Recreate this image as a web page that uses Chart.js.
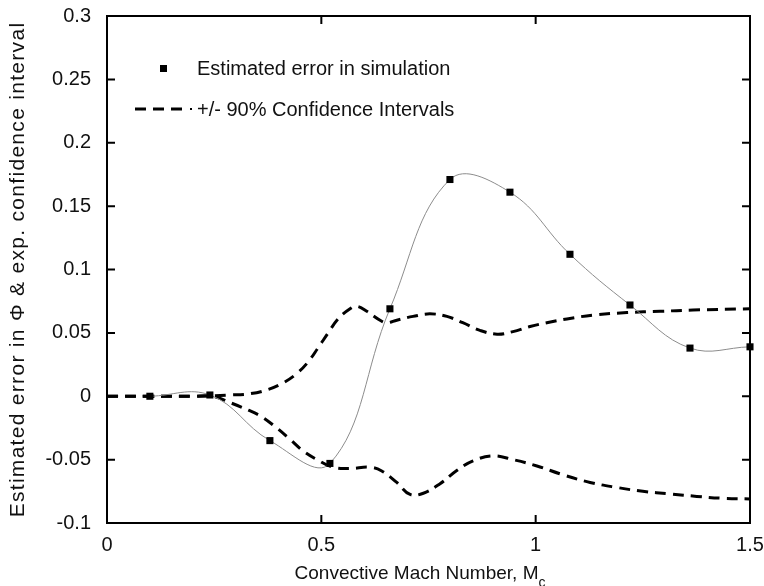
<!DOCTYPE html>
<html>
<head>
<meta charset="utf-8">
<script src="https://cdn.jsdelivr.net/npm/chart.js@4.4.1/dist/chart.umd.min.js"></script>
<style>
  html, body { margin: 0; padding: 0; background: #fff; }
  #wrap { width: 764px; height: 586px; }
</style>
</head>
<body>
<div id="wrap"><canvas id="errorChart" width="764" height="586"></canvas></div>
<script>
  // estimated error in simulation (square markers)
  const machNumbers = [0.1, 0.24, 0.38, 0.52, 0.66, 0.8, 0.94, 1.08, 1.22, 1.36, 1.5];
  const estimatedError = [0, 0.001, -0.035, -0.053, 0.069, 0.171, 0.161, 0.112, 0.072, 0.038, 0.039];

  // +/- 90% confidence interval curves
  const upperMach = [0, 0.1, 0.2, 0.287, 0.334, 0.373, 0.408, 0.443, 0.469, 0.492, 0.516, 0.539, 0.567, 0.583,
    0.606, 0.637, 0.653, 0.676, 0.714, 0.753, 0.793, 0.83, 0.87, 0.91, 0.947, 0.987, 1.026, 1.073, 1.134,
    1.213, 1.29, 1.367, 1.5];
  const upperCI = [0, 0, 0, 0.001, 0.002, 0.005, 0.010, 0.018, 0.027, 0.038, 0.050, 0.061, 0.069, 0.071,
    0.067, 0.060, 0.058, 0.060, 0.063, 0.065, 0.063, 0.058, 0.052, 0.049, 0.051, 0.055, 0.058, 0.061, 0.064,
    0.066, 0.067, 0.068, 0.069];
  const lowerMach = [0, 0.1, 0.2, 0.247, 0.287, 0.33, 0.36, 0.396, 0.427, 0.457, 0.49, 0.527, 0.567, 0.613,
    0.641, 0.676, 0.707, 0.738, 0.777, 0.816, 0.854, 0.9, 0.947, 1.003, 1.064, 1.127, 1.19, 1.25, 1.313,
    1.376, 1.437, 1.5];
  const lowerCI = [0, 0, 0, 0, -0.005, -0.011, -0.016, -0.025, -0.034, -0.043, -0.050, -0.056, -0.057, -0.056,
    -0.059, -0.068, -0.0775, -0.0765, -0.069, -0.0585, -0.051, -0.047, -0.050, -0.055, -0.062, -0.068, -0.072,
    -0.075, -0.077, -0.079, -0.0805, -0.081];

  const xTicks = [0, 0.5, 1, 1.5];
  const yTicks = [-0.1, -0.05, 0, 0.05, 0.1, 0.15, 0.2, 0.25, 0.3];

  const legendLabels = ['Estimated error in simulation', '+/- 90% Confidence Intervals'];
  const xTitle = 'Convective Mach Number, M';
  const yTitle = 'Estimated error in \u03A6 & exp. confidence interval';

  const FONT = '"Liberation Sans", Arial, Helvetica, sans-serif';

  function toPoints(xs, ys) {
    return xs.map((x, i) => ({ x: x, y: ys[i] }));
  }

  function fmt(v) {
    return String(+Number(v).toFixed(2));
  }

  // box around plot + inward tick marks on all four sides, plus axis titles
  const frame = {
    id: 'frame',
    afterDraw(chart) {
      const ctx = chart.ctx;
      const a = chart.chartArea;
      const xs = chart.scales.x, ys = chart.scales.y;
      const tl = 8;
      ctx.save();
      ctx.strokeStyle = '#000';
      ctx.lineWidth = 2;
      ctx.strokeRect(a.left, a.top, a.right - a.left, a.bottom - a.top);
      ctx.beginPath();
      xTicks.forEach(v => {
        const px = xs.getPixelForValue(v);
        ctx.moveTo(px, a.bottom); ctx.lineTo(px, a.bottom - tl);
        ctx.moveTo(px, a.top); ctx.lineTo(px, a.top + tl);
      });
      yTicks.forEach(v => {
        const py = ys.getPixelForValue(v);
        ctx.moveTo(a.left, py); ctx.lineTo(a.left + tl, py);
        ctx.moveTo(a.right, py); ctx.lineTo(a.right - tl, py);
      });
      ctx.stroke();

      // x axis title with subscript
      ctx.fillStyle = '#111';
      ctx.textBaseline = 'alphabetic';
      ctx.textAlign = 'left';
      ctx.font = '19px ' + FONT;
      const w = ctx.measureText(xTitle).width;
      const sx = (a.left + a.right) / 2 - w / 2 - 12;
      ctx.fillText(xTitle, sx, 579);
      ctx.font = '14px ' + FONT;
      ctx.fillText('c', sx + w, 587);

      // y axis title, rotated
      ctx.translate(18, (a.top + a.bottom) / 2);
      ctx.rotate(-Math.PI / 2);
      ctx.font = '21px ' + FONT;
      ctx.letterSpacing = '1.3px';
      ctx.textAlign = 'center';
      ctx.textBaseline = 'middle';
      ctx.fillText(yTitle, 0, 0);
      ctx.restore();
    }
  };

  // legend in the top-left of the plot
  const innerLegend = {
    id: 'innerLegend',
    afterDraw(chart) {
      const ctx = chart.ctx;
      const a = chart.chartArea;
      ctx.save();
      ctx.fillStyle = '#000';
      ctx.fillRect(a.left + 53, a.top + 49, 7, 7);
      ctx.strokeStyle = '#000';
      ctx.lineWidth = 3;
      ctx.setLineDash([11, 7]);
      ctx.beginPath();
      ctx.moveTo(a.left + 28, a.top + 93);
      ctx.lineTo(a.left + 82, a.top + 93);
      ctx.stroke();
      ctx.setLineDash([]);
      ctx.fillRect(a.left + 83, a.top + 92, 2, 2);
      ctx.fillStyle = '#111';
      ctx.font = '20px ' + FONT;
      ctx.textBaseline = 'middle';
      ctx.fillText(legendLabels[0], a.left + 90, a.top + 53);
      ctx.fillText(legendLabels[1], a.left + 90, a.top + 94);
      ctx.restore();
    }
  };

  const ctx = document.getElementById('errorChart').getContext('2d');
  const errorChart = new Chart(ctx, {
    type: 'line',
    data: {
      datasets: [
        {
          label: legendLabels[0],
          data: toPoints(machNumbers, estimatedError),
          borderColor: '#8c8c8c',
          borderWidth: 1,
          backgroundColor: '#000',
          pointStyle: 'rect',
          pointRadius: 5,
          pointBorderWidth: 0,
          pointBackgroundColor: '#000',
          tension: 0.4,
          clip: false,
          order: 0
        },
        {
          label: legendLabels[1],
          data: toPoints(upperMach, upperCI),
          borderColor: '#000',
          borderWidth: 3,
          borderDash: [11, 7],
          pointRadius: 0,
          tension: 0.4,
          order: 1
        },
        {
          label: '',
          data: toPoints(lowerMach, lowerCI),
          borderColor: '#000',
          borderWidth: 3,
          borderDash: [11, 7],
          pointRadius: 0,
          tension: 0.4,
          order: 2
        }
      ]
    },
    options: {
      responsive: false,
      devicePixelRatio: 1,
      animation: false,
      layout: { padding: { left: 0, top: 16, right: 14, bottom: 0 } },
      scales: {
        x: {
          type: 'linear',
          min: 0,
          max: 1.5,
          afterFit: s => {
            s.height = 63;
            s.paddingLeft = 0;
            s.paddingRight = 0;
          },
          afterBuildTicks: s => { s.ticks = xTicks.map(v => ({ value: v })); },
          grid: { display: false, drawTicks: false },
          border: { display: false },
          ticks: {
            padding: 10,
            color: '#111',
            font: { family: FONT, size: 20 },
            callback: fmt
          }
        },
        y: {
          min: -0.1,
          max: 0.3,
          afterFit: s => {
            s.width = 107;
            s.paddingTop = 0;
            s.paddingBottom = 0;
          },
          afterBuildTicks: s => { s.ticks = yTicks.map(v => ({ value: v })); },
          grid: { display: false, drawTicks: false },
          border: { display: false },
          ticks: {
            padding: 16,
            color: '#111',
            font: { family: FONT, size: 20 },
            callback: fmt
          }
        }
      },
      plugins: {
        legend: { display: false },
        tooltip: { enabled: false }
      }
    },
    plugins: [frame, innerLegend]
  });
</script>
</body>
</html>
